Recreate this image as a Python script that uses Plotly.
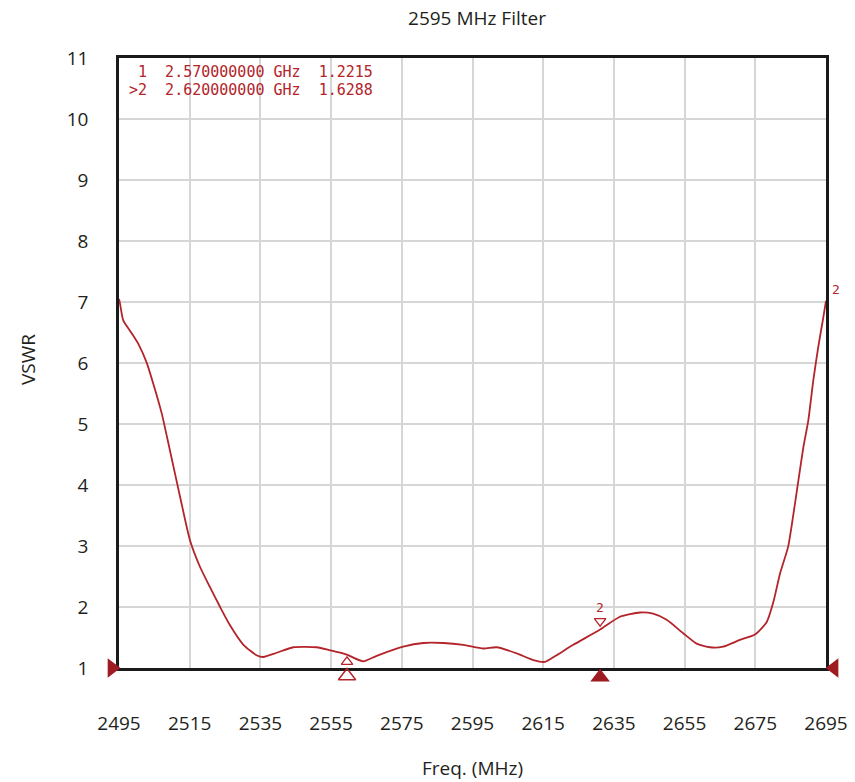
import plotly.graph_objects as go

freq = [2495.0, 2495.3, 2496.2, 2498.1, 2500.5, 2502.8, 2504.7, 2507.1, 2509.4, 2512.3,
        2515.1, 2517.9, 2520.7, 2523.6, 2526.4, 2530.2, 2533.9, 2535.8, 2539.6, 2544.3,
        2550.9, 2554.7, 2559.4, 2564.1, 2567.9, 2575.4, 2581.1, 2586.8, 2592.4, 2598.1,
        2601.8, 2607.5, 2612.2, 2615.5, 2618.8, 2623.5, 2631.1, 2636.7, 2642.4, 2646.1,
        2649.9, 2654.6, 2658.4, 2662.2, 2665.9, 2670.6, 2674.9, 2678.2, 2680.1, 2682.0,
        2684.3, 2685.8, 2687.2, 2688.6, 2690.0, 2691.4, 2692.8, 2694.1, 2695.0]
vswr = [7.05, 6.97, 6.70, 6.53, 6.31, 6.01, 5.66, 5.17, 4.57, 3.80,
        3.09, 2.66, 2.33, 2.00, 1.70, 1.38, 1.21, 1.18, 1.25, 1.34,
        1.34, 1.29, 1.22, 1.11, 1.20, 1.35, 1.41, 1.41, 1.38, 1.32,
        1.34, 1.24, 1.13, 1.10, 1.21, 1.38, 1.63, 1.84, 1.91, 1.89,
        1.79, 1.57, 1.40, 1.34, 1.35, 1.46, 1.55, 1.75, 2.08, 2.55,
        2.99, 3.53, 4.08, 4.62, 5.06, 5.71, 6.26, 6.70, 7.02]

x_ticks = [2495, 2515, 2535, 2555, 2575, 2595, 2615, 2635, 2655, 2675, 2695]
y_ticks = [1, 2, 3, 4, 5, 6, 7, 8, 9, 10, 11]

marker_freq = [2559.5, 2631.1]
marker_vswr = [1.2215, 1.6288]
marker_labels = ["1", "2"]
marker_lines = ["\u00a01\u00a0\u00a02.570000000\u00a0GHz\u00a0\u00a01.2215",
                ">2\u00a0\u00a02.620000000\u00a0GHz\u00a0\u00a01.6288"]
edge_freq = [2493.0, 2697.3]   # reference-level arrows just outside the frame
edge_level = 1.0

title = "2595 MHz Filter"
x_title = "Freq. (MHz)"
y_title = "VSWR"

RED = "#b3242b"
DARK = "#9e1b22"
FONT = "Open Sans"
TXT = "#231f20"

# ---- geometry (pixels) ----
W, H = 855, 782
OUT_L, OUT_R, OUT_T, OUT_B = 80, 845, 40, 690      # outer (marker) subplot box
IN_L, IN_R, IN_T, IN_B = 119, 826, 58, 668          # inner plotting frame
XR = [x_ticks[0], x_ticks[-1]]
YR = [y_ticks[0], y_ticks[-1]]
xs = (XR[1] - XR[0]) / (IN_R - IN_L)
ys = (YR[1] - YR[0]) / (IN_B - IN_T)
x2_range = [XR[0] - (IN_L - OUT_L) * xs, XR[1] + (OUT_R - IN_R) * xs]
y2_range = [YR[0] - (OUT_B - IN_B) * ys, YR[1] + (IN_T - OUT_T) * ys]
ow, oh = OUT_R - OUT_L, OUT_B - OUT_T
x_dom = [(IN_L - OUT_L) / ow, (IN_R - OUT_L) / ow]
y_dom = [(OUT_B - IN_B) / oh, (OUT_B - IN_T) / oh]

fig = go.Figure()

fig.add_trace(go.Scatter(
    x=freq, y=vswr, mode="lines", xaxis="x", yaxis="y",
    line=dict(color=RED, width=1.8, shape="spline", smoothing=0.6),
    hoverinfo="skip", showlegend=False))

# marker symbols drawn on the overlay (wider) axes so they can sit outside the frame
fig.add_trace(go.Scatter(
    x=[marker_freq[0]], y=[marker_vswr[0] - 0.12], mode="markers", xaxis="x2", yaxis="y2",
    marker=dict(symbol="triangle-up-open", size=10, color=RED, line=dict(width=1.3)),
    showlegend=False, hoverinfo="skip"))
fig.add_trace(go.Scatter(
    x=[marker_freq[0]], y=[0.87], mode="markers", xaxis="x2", yaxis="y2",
    marker=dict(symbol="triangle-up-open", size=15, color=RED, line=dict(width=1.5)),
    showlegend=False, hoverinfo="skip"))
fig.add_trace(go.Scatter(
    x=[marker_freq[1]], y=[marker_vswr[1] + 0.14], mode="markers", xaxis="x2", yaxis="y2",
    marker=dict(symbol="triangle-down-open", size=10, color=RED, line=dict(width=1.3)),
    showlegend=False, hoverinfo="skip"))
fig.add_trace(go.Scatter(
    x=[marker_freq[1]], y=[0.85], mode="markers", xaxis="x2", yaxis="y2",
    marker=dict(symbol="triangle-up", size=17, color=DARK),
    showlegend=False, hoverinfo="skip"))
fig.add_trace(go.Scatter(
    x=[edge_freq[0]], y=[edge_level], mode="markers", xaxis="x2", yaxis="y2",
    marker=dict(symbol="triangle-right", size=17, color=DARK),
    showlegend=False, hoverinfo="skip"))
fig.add_trace(go.Scatter(
    x=[edge_freq[1]], y=[edge_level], mode="markers", xaxis="x2", yaxis="y2",
    marker=dict(symbol="triangle-left", size=17, color=DARK),
    showlegend=False, hoverinfo="skip"))

mono = dict(family="DejaVu Sans Mono", color=RED)
annotations = [
    dict(x=marker_freq[1], y=marker_vswr[1] + 0.37, xref="x2", yref="y2",
         text=marker_labels[1], showarrow=False, font=dict(size=13, **mono)),
    dict(x=XR[1] + 1.2, y=7.2, xref="x2", yref="y2", text=marker_labels[1],
         xanchor="left", showarrow=False, font=dict(size=13, **mono)),
    dict(x=XR[0] + 8 * xs, y=YR[1] - 14 * ys, xref="x", yref="y",
         text=marker_lines[0], xanchor="left", yanchor="middle", showarrow=False,
         font=dict(size=15, **mono)),
    dict(x=XR[0] + 8 * xs, y=YR[1] - 32 * ys, xref="x", yref="y",
         text=marker_lines[1], xanchor="left", yanchor="middle", showarrow=False,
         font=dict(size=15, **mono)),
    dict(x=0.5, y=-0.164, xref="x domain", yref="y domain", text=x_title,
         showarrow=False, xanchor="center", yanchor="middle",
         font=dict(family=FONT, size=19, color=TXT)),
    dict(x=-0.1287, y=0.505, xref="x domain", yref="y domain", text=y_title, textangle=-90,
         showarrow=False, xanchor="center", yanchor="middle",
         font=dict(family=FONT, size=19, color=TXT)),
]

fig.update_layout(
    width=W, height=H,
    margin=dict(l=OUT_L, r=W - OUT_R, t=OUT_T, b=H - OUT_B, autoexpand=False),
    paper_bgcolor="white", plot_bgcolor="rgba(0,0,0,0)",
    title=dict(text=title, x=477 / W, xref="container", xanchor="center",
               y=1 - 18 / H, yref="container", yanchor="middle",
               font=dict(family=FONT, size=19, color=TXT)),
    annotations=annotations,
    xaxis=dict(domain=x_dom, anchor="y", range=XR, tickvals=x_ticks,
               ticktext=[str(v) for v in x_ticks], automargin=False,
               showgrid=True, gridcolor="#d6d6d6", gridwidth=1.5,
               showline=True, linecolor="#1a1a1a", linewidth=2.5, mirror=True,
               ticks="", ticklabelstandoff=36, zeroline=False,
               tickfont=dict(family=FONT, size=19, color=TXT)),
    yaxis=dict(domain=y_dom, anchor="x", range=YR, tickvals=y_ticks, automargin=False,
               showgrid=True, gridcolor="#d6d6d6", gridwidth=1.5,
               showline=True, linecolor="#1a1a1a", linewidth=2.5, mirror=True,
               ticks="", ticklabelstandoff=24, zeroline=False,
               tickfont=dict(family=FONT, size=19, color=TXT)),
    xaxis2=dict(domain=[0, 1], anchor="y2", range=x2_range, visible=False, automargin=False),
    yaxis2=dict(domain=[0, 1], anchor="x2", range=y2_range, visible=False, automargin=False),
)

fig.write_html("out.html")
